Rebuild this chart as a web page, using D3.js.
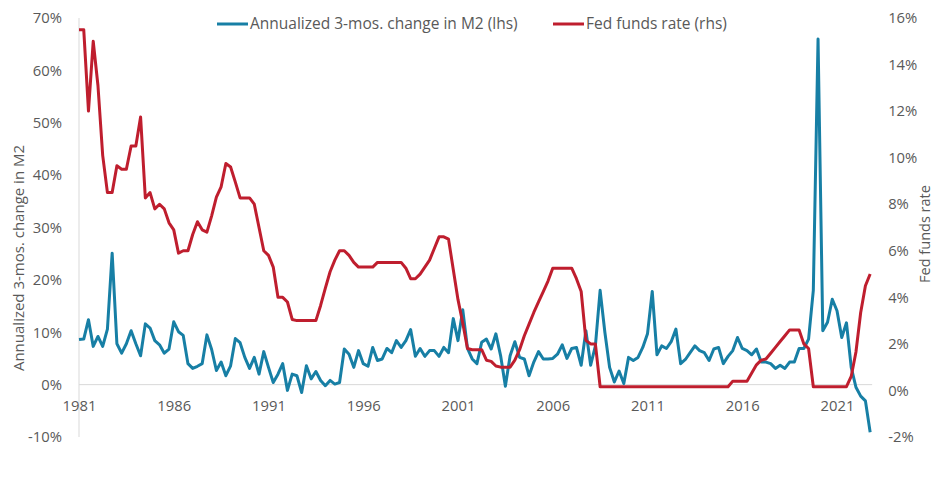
<!DOCTYPE html>
<html lang="en">
<head>
  <meta charset="UTF-8">
  <title>M2 growth vs Fed funds rate</title>
  <script src="https://d3js.org/d3.v7.min.js"></script>
  <style>
    body { margin: 0; background: #fff; }
    svg text { font-family: "Open Sans", "Noto Sans", sans-serif; fill: #595959; }
  </style>
</head>
<body>
  <div id="chart"></div>
  <script>
    // quarterly observations starting 1981 Q1
    const startYear = 1981;
    const tickYears = [1981, 1986, 1991, 1996, 2001, 2006, 2011, 2016, 2021];
    const leftTicks = [-10, 0, 10, 20, 30, 40, 50, 60, 70];
    const rightTicks = [-2, 0, 2, 4, 6, 8, 10, 12, 14, 16];

    // annualized 3-month change in M2, %
    const m2Change = [
      8.6, 8.7, 12.4, 7.3, 9.2, 7.3, 10.6, 25.1, 7.8, 6.0,
      7.8, 10.3, 7.8, 5.5, 11.6, 10.8, 8.4, 7.6, 6.0, 6.8,
      12.0, 10.1, 9.4, 4.0, 3.1, 3.5, 4.0, 9.5, 6.7, 2.7,
      4.3, 1.7, 3.6, 8.8, 8.0, 5.2, 3.1, 5.2, 2.0, 6.3,
      3.3, 0.4, 2.0, 4.0, -1.1, 2.0, 1.7, -1.5, 3.6, 1.1,
      2.5, 0.8, -0.2, 0.8, 0.1, 0.4, 6.8, 5.8, 3.3, 6.5,
      4.0, 3.5, 7.1, 4.6, 4.9, 6.9, 6.1, 8.4, 7.1, 8.4,
      10.5, 5.4, 6.9, 5.4, 6.5, 6.5, 5.4, 7.1, 6.1, 12.6,
      8.4, 14.3, 6.9, 4.9, 4.0, 8.1, 8.7, 6.8, 9.7, 5.5,
      -0.3, 5.5, 8.2, 5.2, 4.9, 1.7, 4.3, 6.3, 4.9, 4.9,
      5.0, 5.8, 7.6, 5.0, 6.9, 7.1, 3.7, 10.3, 3.7, 7.4,
      18.0, 10.0, 3.3, 0.5, 2.6, 0.2, 5.2, 4.6, 5.2, 7.1,
      9.7, 17.8, 5.7, 7.4, 6.9, 8.2, 10.6, 4.0, 4.8, 6.1,
      7.4, 6.5, 6.1, 4.6, 6.8, 7.1, 4.0, 5.4, 6.5, 9.0,
      6.9, 6.5, 5.7, 6.8, 4.3, 4.3, 4.0, 3.1, 3.7, 3.1,
      4.3, 4.3, 6.9, 6.9, 8.7, 18.0, 66.0, 10.3, 11.9, 16.3,
      14.1, 9.0, 11.8, 3.3, -0.5, -2.2, -3.1, -9.1
    ];

    // effective fed funds rate, %
    const fedFunds = [
      15.5, 15.5, 12.0, 15.0, 13.1, 10.1, 8.5, 8.5, 9.65, 9.5,
      9.5, 10.5, 10.5, 11.75, 8.27, 8.5, 7.8, 8.0, 7.8, 7.2,
      6.9, 5.9, 6.0, 6.0, 6.7, 7.25, 6.9, 6.8, 7.5, 8.3,
      8.75, 9.75, 9.6, 8.95, 8.27, 8.27, 8.27, 8.0, 7.0, 6.0,
      5.8, 5.3, 4.0, 4.0, 3.8, 3.05, 3.0, 3.0, 3.0, 3.0,
      3.0, 3.65, 4.4, 5.1, 5.6, 6.0, 6.0, 5.8, 5.5, 5.3,
      5.3, 5.3, 5.3, 5.5, 5.5, 5.5, 5.5, 5.5, 5.5, 5.25,
      4.8, 4.8, 5.0, 5.3, 5.6, 6.1, 6.6, 6.6, 6.5, 5.2,
      3.9, 2.9, 1.8, 1.75, 1.75, 1.75, 1.3, 1.25, 1.05, 1.0,
      1.0, 1.0, 1.3, 1.75, 2.35, 2.85, 3.35, 3.8, 4.25, 4.7,
      5.25, 5.25, 5.25, 5.25, 5.25, 4.8, 4.25, 2.15, 2.0, 2.0,
      0.16, 0.16, 0.16, 0.16, 0.16, 0.16, 0.16, 0.16, 0.16, 0.16,
      0.16, 0.16, 0.16, 0.16, 0.16, 0.16, 0.16, 0.16, 0.16, 0.16,
      0.16, 0.16, 0.16, 0.16, 0.16, 0.16, 0.16, 0.16, 0.4, 0.4,
      0.4, 0.4, 0.75, 1.1, 1.3, 1.35, 1.6, 1.85, 2.1, 2.35,
      2.6, 2.6, 2.6, 2.0, 1.8, 0.16, 0.16, 0.16, 0.16, 0.16,
      0.16, 0.16, 0.16, 0.6, 1.65, 3.35, 4.5, 5.0
    ];

    const width = 940, height = 483;
    const blue = "#177fa5", red = "#bf1e2e";
    const plotLeft = 79, plotTop = 18, plotBottom = 437;

    const svg = d3.select("#chart").append("svg")
      .attr("width", width).attr("height", height);

    const qToYear = i => startYear + i / 4;
    const x = d3.scaleLinear()
      .domain([startYear, qToYear(167)])
      .range([plotLeft, plotLeft + 167 * 4.7375]);
    const yLeft = d3.scaleLinear().domain([-10, 70]).range([plotBottom, plotTop]);
    const yRight = d3.scaleLinear().domain([-2, 16]).range([plotBottom, plotTop]);

    // left axis line and zero gridline
    svg.append("line")
      .attr("x1", plotLeft).attr("x2", plotLeft)
      .attr("y1", plotTop).attr("y2", plotBottom)
      .attr("stroke", "#d9d9d9");
    svg.append("line")
      .attr("x1", plotLeft).attr("x2", x(qToYear(167)) + 2)
      .attr("y1", yLeft(0)).attr("y2", yLeft(0))
      .attr("stroke", "#d9d9d9");

    const tickFont = "14.8px";

    const leftAxis = svg.append("g")
      .attr("transform", `translate(${plotLeft - 17},0)`)
      .call(d3.axisLeft(yLeft).tickValues(leftTicks).tickSize(0).tickFormat(d => d + "%"));
    leftAxis.select(".domain").remove();
    leftAxis.selectAll("text").attr("x", 0).style("font-size", tickFont);

    const rightAxis = svg.append("g")
      .attr("transform", `translate(${x(qToYear(167)) + 18},0)`)
      .call(d3.axisRight(yRight).tickValues(rightTicks).tickSize(0).tickFormat(d => d + "%"));
    rightAxis.select(".domain").remove();
    rightAxis.selectAll("text").attr("x", 0).style("font-size", tickFont);

    const bottomAxis = svg.append("g")
      .attr("transform", `translate(0,${yLeft(0)})`)
      .call(d3.axisBottom(x).tickValues(tickYears).tickSize(0).tickFormat(d3.format("d")));
    bottomAxis.select(".domain").remove();
    bottomAxis.selectAll("text").attr("y", 16).style("font-size", tickFont);

    // axis titles
    svg.append("text")
      .attr("transform", "translate(24,258) rotate(-90)")
      .attr("text-anchor", "middle")
      .style("font-size", "15px")
      .text("Annualized 3-mos. change in M2");
    svg.append("text")
      .attr("transform", "translate(930,234) rotate(-90)")
      .attr("text-anchor", "middle")
      .style("font-size", "14.5px")
      .text("Fed funds rate");

    // series
    const m2Line = d3.line().x((d, i) => x(qToYear(i))).y(d => yLeft(d));
    const ffLine = d3.line().x((d, i) => x(qToYear(i))).y(d => yRight(d));

    svg.append("path").datum(m2Change)
      .attr("d", m2Line).attr("fill", "none")
      .attr("stroke", blue).attr("stroke-width", 3).attr("stroke-linejoin", "round");
    svg.append("path").datum(fedFunds)
      .attr("d", ffLine).attr("fill", "none")
      .attr("stroke", red).attr("stroke-width", 3).attr("stroke-linejoin", "round");

    // legend
    const legendItems = [
      { label: "Annualized 3-mos. change in M2 (lhs)", color: blue, x: 217 },
      { label: "Fed funds rate (rhs)", color: red, x: 553 }
    ];
    const legend = svg.append("g").attr("transform", "translate(0,24)");
    legendItems.forEach(item => {
      legend.append("line")
        .attr("x1", item.x).attr("x2", item.x + 31)
        .attr("stroke", item.color).attr("stroke-width", 3);
      legend.append("text")
        .attr("x", item.x + 33).attr("dy", "0.35em")
        .style("font-size", "15.5px")
        .text(item.label);
    });
  </script>
</body>
</html>
